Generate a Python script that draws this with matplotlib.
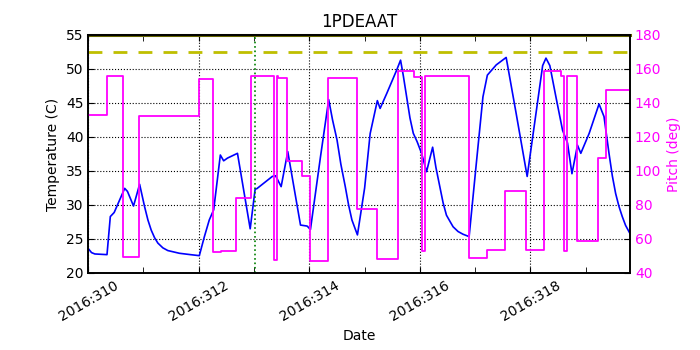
import matplotlib
matplotlib.use('Agg')
import matplotlib.pyplot as plt
from matplotlib.ticker import MultipleLocator, FuncFormatter

# 1PDEAAT temperature (day of year 2016)
temp_day = [310.00, 310.06, 310.12, 310.34, 310.40, 310.47, 310.66, 310.71, 310.82, 310.93,
            311.02, 311.08, 311.14, 311.20, 311.26, 311.35, 311.44, 311.65, 311.85, 312.01,
            312.10, 312.19, 312.27, 312.39, 312.45, 312.52, 312.70, 312.93, 313.02, 313.05,
            313.33, 313.39, 313.49, 313.61, 313.84, 313.96, 314.02, 314.20, 314.35, 314.42,
            314.50, 314.57, 314.65, 314.71, 314.77, 314.87, 315.00, 315.10, 315.23, 315.28,
            315.40, 315.58, 315.65, 315.70, 315.76, 315.82, 315.88, 315.95, 316.03, 316.12,
            316.23, 316.29, 316.36, 316.42, 316.48, 316.55, 316.60, 316.69, 316.78, 316.89,
            317.02, 317.14, 317.22, 317.38, 317.56, 317.74, 317.94, 318.10, 318.22, 318.28,
            318.35, 318.46, 318.58, 318.67, 318.75, 318.85, 318.91, 319.06, 319.24, 319.33,
            319.42, 319.48, 319.54, 319.60, 319.66, 319.72, 319.80]
temp_val = [23.6, 23.0, 22.8, 22.7, 28.3, 28.9, 32.45, 32.0, 29.85, 33.05,
            29.75, 27.8, 26.3, 25.2, 24.4, 23.7, 23.3, 22.9, 22.7, 22.55,
            25.3, 27.8, 29.3, 37.35, 36.5, 36.9, 37.6, 26.5, 32.35, 32.4,
            34.2, 34.3, 32.7, 37.85, 27.05, 26.9, 26.4, 37.0, 45.5, 42.5,
            39.6, 36.0, 32.7, 30.0, 27.8, 25.6, 32.5, 40.5, 45.35, 44.2,
            46.4, 49.85, 51.3, 49.0, 45.9, 42.8, 40.55, 39.3, 37.6, 34.9,
            38.5, 35.5, 32.7, 30.3, 28.5, 27.5, 26.8, 26.1, 25.7, 25.35,
            36.1, 45.9, 49.1, 50.6, 51.7, 43.5, 34.2, 43.5, 50.5, 51.6,
            50.5, 45.9, 41.0, 39.1, 34.6, 38.8, 37.6, 40.5, 44.85, 43.0,
            37.6, 34.3, 31.7, 29.8, 28.3, 27.0, 25.8]

# pitch (step values, each holds until the next day)
pitch_day = [310.00, 310.34, 310.63, 310.92, 312.01, 312.25, 312.40, 312.68, 312.94, 313.36,
             313.42, 313.44, 313.60, 313.87, 314.01, 314.33, 314.86, 315.22, 315.61, 315.90,
             316.03, 316.09, 316.88, 317.22, 317.53, 317.92, 318.24, 318.55, 318.61, 318.66,
             318.84, 319.22, 319.36, 319.80]
pitch_val = [132.9, 156.1, 49.6, 132.55, 154.1, 52.2, 52.7, 84.3, 156.1, 47.6,
             156.0, 154.8, 105.9, 97.1, 47.2, 154.9, 77.6, 48.0, 159.0, 155.5,
             52.9, 156.1, 49.0, 53.5, 88.4, 53.5, 159.0, 155.9, 53.1, 155.9,
             58.8, 107.5, 147.6, 147.6]

planning_limit = 52.5
now_day = 313.01

fig = plt.figure(figsize=(7, 3.5), dpi=100)
ax = fig.add_axes([0.126, 0.22, 0.774, 0.68])

ax.plot(temp_day, temp_val, color='b', lw=1.2)
ax.axhline(planning_limit, color=(0.75, 0.75, 0), ls='--', lw=2, dashes=(5, 4))
ax.axhline(55, color=(0.4, 0.4, 0), lw=2.2, clip_on=False)
ax.axvline(now_day, color=(0, 0.5, 0), ls=':', lw=1.2)

ax.set_xlim(310, 319.8)
ax.set_ylim(20, 55)
ax.xaxis.set_major_locator(MultipleLocator(2))
ax.xaxis.set_minor_locator(MultipleLocator(1))
ax.xaxis.set_major_formatter(FuncFormatter(lambda x, p: '2016:%d' % int(round(x))))
ax.yaxis.set_major_locator(MultipleLocator(5))
ax.grid(True, which='major', color='k', ls=':', lw=0.8)
ax.tick_params(which='both', direction='in', top=True, right=False, length=4, labelsize=10)
for lab in ax.get_xticklabels():
    lab.set_rotation(30)
    lab.set_ha('center')
ax.set_xlabel('Date', fontsize=10)
ax.set_ylabel('Temperature (C)', fontsize=10)
ax.set_title('1PDEAAT', fontsize=12)

ax2 = ax.twinx()
ax2.plot(pitch_day, pitch_val, color='#ff00ff', lw=1.3, drawstyle='steps-post')
ax2.set_ylim(40, 180)
ax2.yaxis.set_major_locator(MultipleLocator(20))
ax2.tick_params(direction='in', length=4, labelsize=10, labelcolor='#ff00ff')
ax2.set_ylabel('Pitch (deg)', color='#ff00ff', fontsize=10)
ax2.set_xlim(310, 319.8)

for a in (ax, ax2):
    for s in a.spines.values():
        s.set_linewidth(1.2)

fig.savefig('out.png', dpi=100)
